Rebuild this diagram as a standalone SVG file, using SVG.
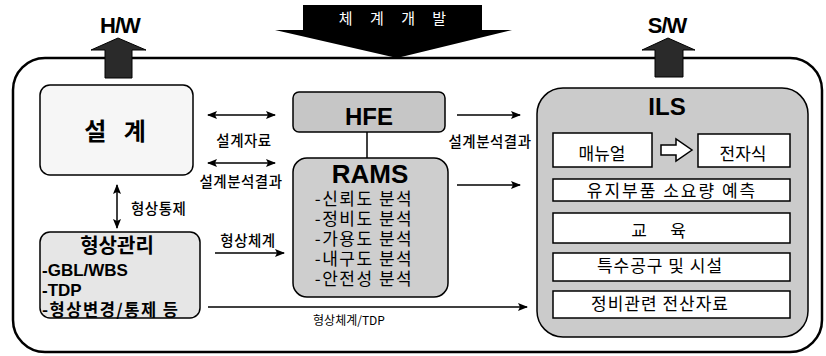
<svg xmlns="http://www.w3.org/2000/svg" width="826" height="356" viewBox="0 0 826 356">
<defs>
<marker id="ah" viewBox="0 0 10 8" refX="9" refY="4" markerWidth="10" markerHeight="8" markerUnits="userSpaceOnUse" orient="auto-start-reverse">
<path d="M0,0 L10,4 L0,8 L2,4 Z" fill="#000"/>
</marker>
<style>
.kr{font-family:"Noto Sans CJK KR","Noto Sans",sans-serif;fill:#000}
.en{font-family:"Liberation Sans",Arial,sans-serif;font-weight:bold;fill:#000}
.lbl{font-size:14.5px;font-weight:500;letter-spacing:0.5px}
.box{stroke:#000;stroke-width:1.5}
.wbox{fill:#fff;stroke:#000;stroke-width:1.5}
.conn{stroke:#000;stroke-width:1.5;fill:none}
.bigarrow{fill:#2a2a2a;stroke:#000;stroke-width:1}
</style>
</defs>
<rect width="826" height="356" fill="#fff"/>

<g id="frame">
<rect x="13" y="58" width="809" height="294" rx="32" ry="32" fill="none" stroke="#000" stroke-width="2.5"/>
</g>

<g id="banner">
<polygon points="303,5 482,5 482,30 512,30 397,58 275,30 303,30" fill="#000"/>
<text x="396" y="24" class="kr" font-size="15" style="fill:#fff" text-anchor="middle" letter-spacing="7">체 계 개 발</text>
</g>

<g id="hw">
<text x="120" y="33" class="en" font-size="22" text-anchor="middle" letter-spacing="-1">H/W</text>
<polygon class="bigarrow" points="118,38 146,50 132,50 132,78 105,78 105,50 91,50"/>
</g>

<g id="sw">
<text x="667" y="33" class="en" font-size="22" text-anchor="middle" letter-spacing="-1">S/W</text>
<polygon class="bigarrow" points="668,38 695,50 683,50 683,77 655,77 655,50 642,50"/>
</g>

<g id="design">
<rect x="40" y="85" width="153" height="90" rx="10" fill="#f6f6f6" class="box"/>
<text x="118" y="140" class="kr" font-size="24" font-weight="bold" text-anchor="middle" letter-spacing="6">설 계</text>
</g>

<g id="config">
<rect x="40" y="232" width="160" height="86" rx="10" fill="#e6e6e6" class="box"/>
<text x="117" y="253" class="kr" font-size="20" font-weight="bold" text-anchor="middle">형상관리</text>
<text x="42" y="276" class="en" font-size="17">-GBL/WBS</text>
<text x="42" y="296" class="en" font-size="17">-TDP</text>
<text x="42" y="316" class="kr" font-size="16.5" font-weight="bold" letter-spacing="1.5">-형상변경/통제 등</text>
</g>

<g id="hfe">
<rect x="293" y="92" width="152" height="40" rx="6" fill="#c6c6c6" class="box"/>
<text x="369" y="125" class="en" font-size="24" text-anchor="middle">HFE</text>
</g>

<g id="rams">
<rect x="293" y="158" width="155" height="139" rx="14" fill="#cecece" class="box"/>
<text x="370" y="183" class="en" font-size="26" text-anchor="middle">RAMS</text>
<g class="kr" font-size="17" text-anchor="middle" letter-spacing="1.5">
<text x="364" y="205">-신뢰도 분석</text>
<text x="364" y="225">-정비도 분석</text>
<text x="364" y="245">-가용도 분석</text>
<text x="364" y="265">-내구도 분석</text>
<text x="364" y="285">-안전성 분석</text>
</g>
</g>

<g id="ils">
<rect x="537" y="88" width="271" height="249" rx="26" fill="#cbcbcb" class="box"/>
<text x="667" y="115" class="en" font-size="24" text-anchor="middle">ILS</text>
<g id="manual">
<rect x="553" y="133" width="99" height="34" class="wbox"/>
<text x="602" y="160" class="kr" font-size="17" text-anchor="middle">매뉴얼</text>
</g>
<polygon points="661,145 676,145 676,139 692,150 676,161 676,155 661,155" fill="#fff" stroke="#000" stroke-width="1.5"/>
<g id="electronic">
<rect x="698" y="134" width="92" height="33" class="wbox"/>
<text x="743" y="160" class="kr" font-size="17" text-anchor="middle">전자식</text>
</g>
<g id="spares">
<rect x="553" y="179" width="237" height="22" class="wbox"/>
<text x="672" y="197" class="kr" font-size="17" text-anchor="middle" letter-spacing="2">유지부품 소요량 예측</text>
</g>
<g id="training">
<rect x="553" y="213" width="237" height="30" class="wbox"/>
<text x="639" y="237" class="kr" font-size="17" text-anchor="middle">교</text>
<text x="678" y="237" class="kr" font-size="17" text-anchor="middle">육</text>
</g>
<g id="tools">
<rect x="553" y="253" width="237" height="28" class="wbox"/>
<text x="660" y="272" class="kr" font-size="17" text-anchor="middle" letter-spacing="1">특수공구 및 시설</text>
</g>
<g id="data">
<rect x="553" y="291" width="237" height="27" class="wbox"/>
<text x="660" y="310" class="kr" font-size="17" text-anchor="middle" letter-spacing="1">정비관련 전산자료</text>
</g>
</g>

<g id="connectors">
<line class="conn" x1="208" y1="115" x2="275" y2="115" marker-start="url(#ah)" marker-end="url(#ah)"/>
<line class="conn" x1="208" y1="163" x2="275" y2="163" marker-start="url(#ah)" marker-end="url(#ah)"/>
<line class="conn" x1="117" y1="185" x2="117" y2="228" marker-start="url(#ah)" marker-end="url(#ah)"/>
<line class="conn" x1="367" y1="132" x2="367" y2="158"/>
<line class="conn" x1="457" y1="115" x2="520" y2="115" marker-end="url(#ah)"/>
<line class="conn" x1="457" y1="185" x2="520" y2="185" marker-end="url(#ah)"/>
<line class="conn" x1="215" y1="253" x2="284" y2="253" marker-end="url(#ah)"/>
<line class="conn" x1="208" y1="307" x2="527" y2="307" marker-end="url(#ah)"/>
<text x="244" y="146" class="kr lbl" text-anchor="middle">설계자료</text>
<text x="241" y="187" class="kr lbl" text-anchor="middle">설계분석결과</text>
<text x="131" y="214" class="kr lbl">형상통제</text>
<text x="490" y="147" class="kr lbl" text-anchor="middle">설계분석결과</text>
<text x="248" y="246" class="kr lbl" text-anchor="middle">형상체계</text>
<text x="349" y="325" class="kr" font-size="12" text-anchor="middle">형상체계/TDP</text>
</g>
</svg>
